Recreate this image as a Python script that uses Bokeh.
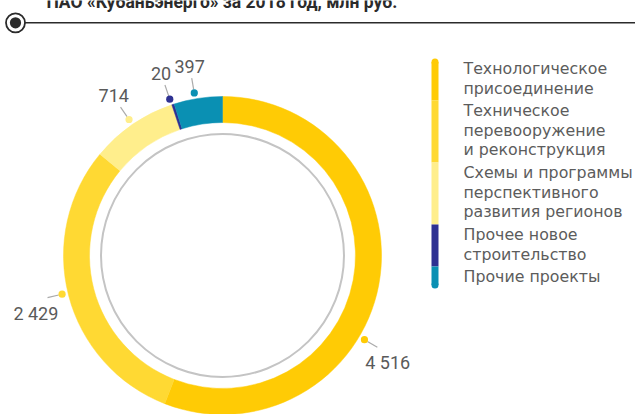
import math
from bokeh.plotting import figure
from bokeh.models import Range1d, ColumnDataSource
from bokeh.core.properties import value
from bokeh.embed import file_html
from bokeh.resources import INLINE

# ---------------- data ----------------
title_text = "ПАО «Кубаньэнерго» за 2018 год, млн руб."
categories = [
    "Технологическое присоединение",
    "Техническое перевооружение и реконструкция",
    "Схемы и программы перспективного развития регионов",
    "Прочее новое строительство",
    "Прочие проекты",
]
legend_lines = [
    ["Технологическое", "присоединение"],
    ["Техническое", "перевооружение", "и реконструкция"],
    ["Схемы и программы", "перспективного", "развития регионов"],
    ["Прочее новое", "строительство"],
    ["Прочие проекты"],
]
values = [4516, 2429, 714, 20, 397]
value_labels = ["4 516", "2 429", "714", "20", "397"]
colors = ["#FFCB05", "#FFD933", "#FFEE8C", "#2E3192", "#0A90B3"]

# ---------------- layout ----------------
W, H = 635, 414
cx, cy = 222, H - 255
r_out, r_in, r_gray = 159, 133, 121.5
label_shift_deg = [-20, -1, 0, 0.5, 1]
r_dot, r_l0, r_l1 = 165, 168.5, 180
FONT = "DejaVu Sans"
NUMFONT = "Roboto"

p = figure(width=W, height=H, x_range=Range1d(0, W), y_range=Range1d(0, H),
           output_backend="svg", toolbar_location=None, min_border=0)
p.axis.visible = False
p.xgrid.visible = False
p.ygrid.visible = False
p.outline_line_color = None
p.background_fill_color = "white"
p.border_fill_color = "white"

# ---------------- donut ----------------
total = float(sum(values))
starts, ends, mids = [], [], []
cum = 0.0
for v in values:
    a0 = math.pi / 2 - cum / total * 2 * math.pi
    cum += v
    a1 = math.pi / 2 - cum / total * 2 * math.pi
    starts.append(a0)
    ends.append(a1)
    mids.append((a0 + a1) / 2)

src = ColumnDataSource(dict(start=starts, end=ends, color=colors, cat=categories, val=values))
p.annular_wedge(x=cx, y=cy, inner_radius=r_in, outer_radius=r_out,
                start_angle="start", end_angle="end", direction="clock",
                fill_color="color", line_color="color", line_width=0.5, source=src)

# inner thin gray circle
p.circle(x=cx, y=cy, radius=r_gray, fill_color=None, line_color="#C4C4C4", line_width=2)

# ---------------- labels ----------------
dx, dy, lx0, ly0, lx1, ly1, tx, ty = [], [], [], [], [], [], [], []
for m, s in zip(mids, label_shift_deg):
    a = m + math.radians(s)
    c, sn = math.cos(a), math.sin(a)
    dx.append(cx + r_dot * c)
    dy.append(cy + r_dot * sn)
    lx0.append(cx + r_l0 * c)
    ly0.append(cy + r_l0 * sn)
    lx1.append(cx + r_l1 * c)
    ly1.append(cy + r_l1 * sn)
    tx.append(cx + r_l1 * c + 12 * c)
    ty.append(cy + r_l1 * sn + (5 if sn > 0 else -5))

p.segment(x0=lx0, y0=ly0, x1=lx1, y1=ly1, line_color="#ABABAB", line_width=1.2)
p.circle(x=dx, y=dy, radius=3.6, fill_color=colors, line_color=None)

top_idx = [i for i in range(len(values)) if ty[i] > cy]
bot_idx = [i for i in range(len(values)) if ty[i] <= cy]
for idx, base in ((top_idx, "bottom"), (bot_idx, "top")):
    if idx:
        p.text(x=[tx[i] for i in idx], y=[ty[i] for i in idx],
               text=[value_labels[i] for i in idx],
               text_font=value(NUMFONT), text_font_size="18px", text_color="#5A5A5A",
               text_align="center", text_baseline=base)

# ---------------- legend ----------------
bar_left, bar_right = 431, 438
leg_top = H - 58
line_h = 19.5
cap = (bar_right - bar_left) / 2
tops, bots = [], []
y = leg_top
for lines in legend_lines:
    h = len(lines) * 20 + 2
    tops.append(y)
    bots.append(y - h)
    y -= h
qt = list(tops)
qb = list(bots)
qt[0] = tops[0] - cap
qb[-1] = bots[-1] + cap
p.quad(left=bar_left, right=bar_right, top=qt, bottom=qb, fill_color=colors, line_color=None)
p.circle(x=[(bar_left + bar_right) / 2] * 2, y=[tops[0] - cap, bots[-1] + cap],
         radius=cap, fill_color=[colors[0], colors[-1]], line_color=None)

lt_x, lt_y, lt_t = [], [], []
for lines, t in zip(legend_lines, tops):
    for i, ln in enumerate(lines):
        lt_x.append(463)
        lt_y.append(t - 10 - i * line_h)
        lt_t.append(ln)
p.text(x=lt_x, y=lt_y, text=lt_t, text_font=value(FONT), text_font_size="15.8px",
       text_color="#5C5C5C", text_align="left", text_baseline="middle")

# ---------------- header ----------------
p.text(x=[46], y=[H - 1], text=[title_text], text_font=value("Roboto"),
       text_font_size="17.5px", text_font_style="bold", text_color="#2B2B2B",
       text_align="left", text_baseline="alphabetic")
p.segment(x0=[24], y0=[H - 22.3], x1=[W], y1=[H - 22.3], line_color="#2B2B2B", line_width=1.5)
p.circle(x=[15], y=[H - 22.3], radius=9.5, fill_color="white", line_color="#2B2B2B", line_width=1.8)
p.circle(x=[15], y=[H - 22.3], radius=5.6, fill_color="#2B2B2B", line_color=None)

open("out.html", "w").write(file_html(p, INLINE))
